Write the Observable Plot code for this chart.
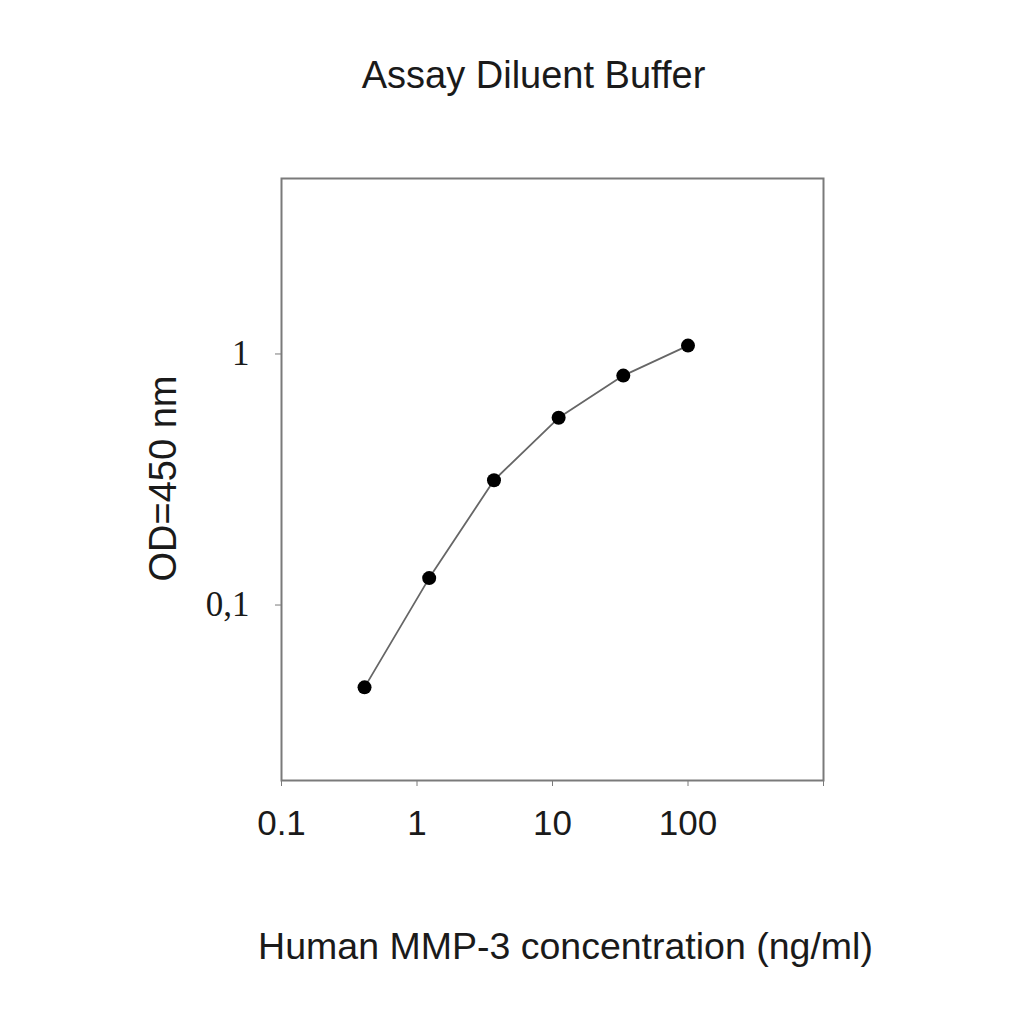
<!DOCTYPE html>
<html>
<head>
<meta charset="utf-8">
<script src="https://cdn.jsdelivr.net/npm/d3@7"></script>
<script src="https://cdn.jsdelivr.net/npm/@observablehq/plot@0.6"></script>
<style>
  html, body { margin: 0; padding: 0; background: #fff; }
  #chart svg { display: block; }
</style>
</head>
<body>
<div id="chart"></div>
<script>
const title = "Assay Diluent Buffer";
const xLabel = "Human MMP-3 concentration (ng/ml)";
const yLabel = "OD=450 nm";
const concentration = [0.41, 1.23, 3.7, 11.1, 33.3, 100];
const od = [0.047, 0.128, 0.314, 0.557, 0.82, 1.08];
const xTicks = [0.1, 1, 10, 100, 1000];
const xTickLabels = ["0.1", "1", "10", "100", ""];
const yTicks = [0.1, 1];
const yTickLabels = ["0,1", "1"];

const data = concentration.map((c, i) => ({c, od: od[i]}));
const sans = "Liberation Sans, Arial, Helvetica, sans-serif";
const serif = "Liberation Serif, Times New Roman, serif";

const chart = Plot.plot({
  width: 1024,
  height: 1024,
  marginLeft: 281,
  marginRight: 201,
  marginTop: 178,
  marginBottom: 244,
  style: {background: "#fff", color: "#1a1a1a"},
  x: {type: "log", domain: [0.1, 1000]},
  y: {type: "log", domain: [0.02, 5]},
  marks: [
    Plot.frame({stroke: "#7a7a7a", strokeWidth: 2}),
    Plot.axisX({
      ticks: xTicks,
      tickFormat: d => xTickLabels[xTicks.indexOf(d)],
      tickSize: 6,
      tickPadding: 24,
      stroke: "#7a7a7a",
      fontSize: 35,
      fontFamily: sans,
      fill: "#1a1a1a",
      label: null
    }),
    Plot.axisY({
      ticks: yTicks,
      tickFormat: d => yTickLabels[yTicks.indexOf(d)],
      tickSize: 6,
      tickPadding: 26,
      stroke: "#7a7a7a",
      fontSize: 35,
      fontFamily: serif,
      fill: "#1a1a1a",
      label: null
    }),
    Plot.line(data, {x: "c", y: "od", stroke: "#666", strokeWidth: 1.8}),
    Plot.dot(data, {x: "c", y: "od", r: 7, fill: "#000", stroke: "none"}),
    Plot.text([title], {frameAnchor: "top", dx: -19, dy: -103, text: d => d, fontSize: 38, fontFamily: sans, fill: "#1a1a1a", lineAnchor: "middle", textAnchor: "middle"}),
    Plot.text([xLabel], {frameAnchor: "bottom", dx: 13, dy: 166, text: d => d, fontSize: 37.5, fontFamily: sans, fill: "#1a1a1a", lineAnchor: "middle", textAnchor: "middle"}),
    Plot.text([yLabel], {frameAnchor: "left", dx: -118, dy: -1, rotate: -90, text: d => d, fontSize: 38, fontFamily: sans, fill: "#1a1a1a", lineAnchor: "middle", textAnchor: "middle"})
  ]
});
document.getElementById("chart").appendChild(chart);
</script>
</body>
</html>
